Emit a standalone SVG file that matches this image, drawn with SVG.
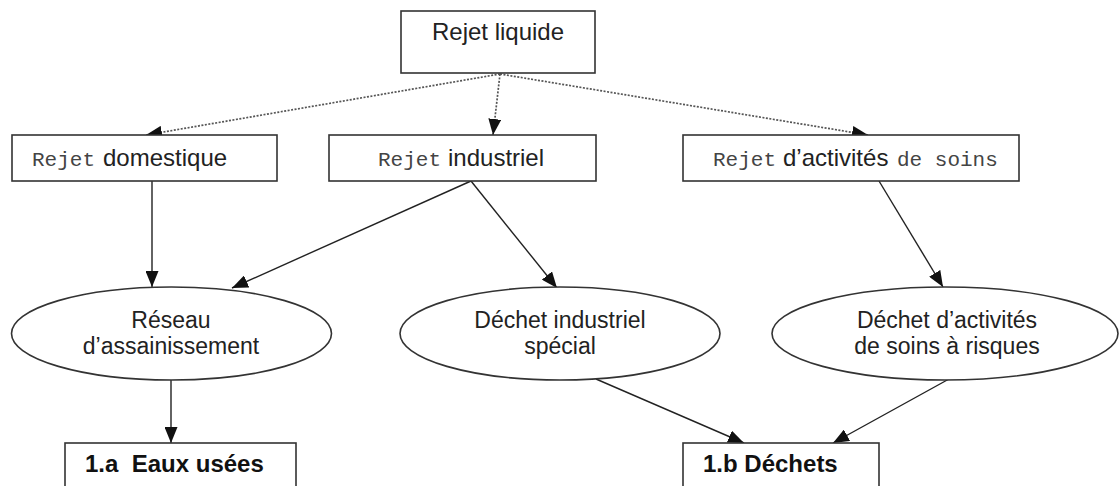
<svg xmlns="http://www.w3.org/2000/svg" width="1119" height="486" viewBox="0 0 1119 486">
<style>
.box{fill:#fff;stroke:#333;stroke-width:1.6}
.ell{fill:#fff;stroke:#333;stroke-width:1.6}
.t{font-family:"Liberation Sans",Arial,sans-serif;font-size:24px;fill:#222}
.e{font-family:"Liberation Sans",Arial,sans-serif;font-size:23px;fill:#222}
.m{font-family:"Liberation Mono","Courier New",monospace;font-size:21px;fill:#444}
.b{font-family:"Liberation Sans",Arial,sans-serif;font-size:24px;font-weight:bold;fill:#111}
.solid{stroke:#222;stroke-width:1.4;fill:none;marker-end:url(#ah)}
.dot{stroke:#555;stroke-width:1.7;stroke-dasharray:2 1.5;fill:none;marker-end:url(#ah)}
</style>
<defs>
<marker id="ah" markerUnits="userSpaceOnUse" markerWidth="17" markerHeight="13" refX="16" refY="6.5" orient="auto">
<path d="M0,0 L16,6.5 L0,13 z" fill="#111"/>
</marker>
</defs>
<rect width="1119" height="486" fill="#fff"/>
<g id="connectors">
<line class="dot" x1="500" y1="74" x2="146" y2="135"/>
<line class="dot" x1="500" y1="74" x2="493" y2="135"/>
<line class="dot" x1="500" y1="74" x2="868" y2="135"/>
<line class="solid" x1="152" y1="181" x2="152" y2="287"/>
<line class="solid" x1="471" y1="181" x2="232" y2="288"/>
<line class="solid" x1="471" y1="181" x2="557" y2="288"/>
<line class="solid" x1="879" y1="181" x2="943" y2="287"/>
<line class="solid" x1="171" y1="380" x2="171" y2="443"/>
<line class="solid" x1="596" y1="379" x2="744" y2="443"/>
<line class="solid" x1="949" y1="379" x2="833" y2="443"/>
</g>
<g id="rejet-liquide">
<rect class="box" x="401" y="11" width="194" height="62"/>
<text class="t" x="498" y="40" text-anchor="middle">Rejet liquide</text>
</g>
<g id="rejet-domestique">
<rect class="box" x="12" y="135" width="265" height="46"/>
<text x="32" y="166"><tspan class="m">Rejet</tspan><tspan class="t" x="103">domestique</tspan></text>
</g>
<g id="rejet-industriel">
<rect class="box" x="329" y="135" width="267" height="46"/>
<text x="378" y="166"><tspan class="m">Rejet</tspan><tspan class="t" x="448">industriel</tspan></text>
</g>
<g id="rejet-soins">
<rect class="box" x="683" y="135" width="336" height="46"/>
<text x="713" y="166"><tspan class="m">Rejet</tspan><tspan class="t" x="783">d’activités</tspan><tspan class="m" x="897">de soins</tspan></text>
</g>
<g id="reseau">
<ellipse class="ell" cx="171.5" cy="333.5" rx="160" ry="46.5"/>
<text class="e" x="171" y="328" text-anchor="middle">Réseau</text>
<text class="e" x="171" y="354" text-anchor="middle">d’assainissement</text>
</g>
<g id="dechet-industriel">
<ellipse class="ell" cx="560" cy="333.5" rx="160" ry="46.5"/>
<text class="e" x="560" y="328" text-anchor="middle">Déchet industriel</text>
<text class="e" x="560" y="354" text-anchor="middle">spécial</text>
</g>
<g id="dechet-soins">
<ellipse class="ell" cx="945" cy="333.5" rx="173" ry="46.5"/>
<text class="e" x="947" y="328" text-anchor="middle">Déchet d’activités</text>
<text class="e" x="947" y="354" text-anchor="middle">de soins à risques</text>
</g>
<g id="eaux-usees">
<rect class="box" x="65" y="443" width="231" height="60"/>
<text class="b" x="85" y="472" xml:space="preserve">1.a  Eaux usées</text>
</g>
<g id="dechets">
<rect class="box" x="683" y="443" width="196" height="60"/>
<text class="b" x="703" y="472">1.b Déchets</text>
</g>
</svg>
